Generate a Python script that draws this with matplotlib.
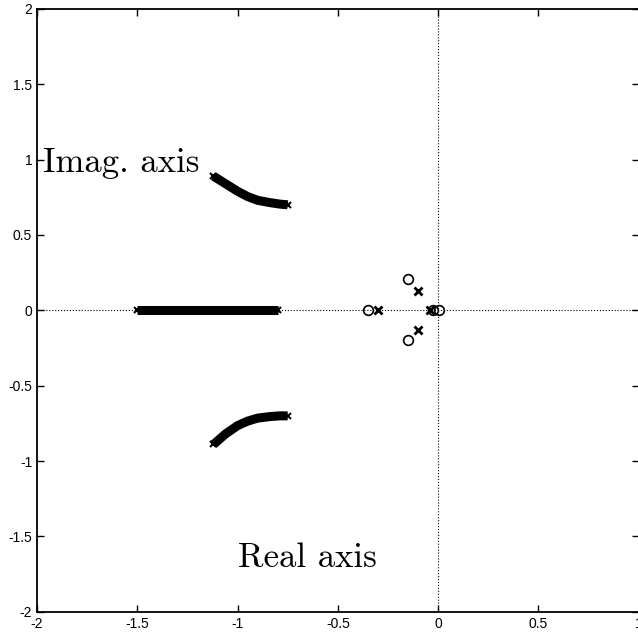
import matplotlib
matplotlib.use("Agg")
import matplotlib.pyplot as plt

plt.rcParams['axes.unicode_minus'] = False
plt.rcParams['font.family'] = ['Liberation Sans', 'DejaVu Sans']

# root locus branches
upper_x = [-1.12, -1.06, -1.00, -0.95, -0.90, -0.84, -0.79, -0.75]
upper_y = [0.89, 0.84, 0.79, 0.755, 0.73, 0.715, 0.705, 0.70]
lower_x = [-1.12, -1.06, -1.00, -0.95, -0.90, -0.84, -0.79, -0.75]
lower_y = [-0.89, -0.82, -0.765, -0.735, -0.715, -0.705, -0.70, -0.70]
real_x = [-1.50, -0.80]
real_y = [0.0, 0.0]

# open-loop poles and zeros near origin
pole_x = [-0.30, -0.10, -0.10, -0.04]
pole_y = [0.0, 0.13, -0.13, 0.0]
zero_x = [-0.35, -0.15, -0.15, -0.025, 0.005]
zero_y = [0.0, 0.205, -0.20, 0.0, 0.0]

xticks = [-2, -1.5, -1, -0.5, 0, 0.5, 1]
yticks = [-2, -1.5, -1, -0.5, 0, 0.5, 1, 1.5, 2]

fig = plt.figure(figsize=(6.38, 6.34), dpi=100)
ax = fig.add_axes([0.058, 0.035, 0.943, 0.951])

ax.plot([-2, 1], [0, 0], color='black', linestyle=':', linewidth=0.8)
ax.plot([0, 0], [-2, 2], color='black', linestyle=':', linewidth=0.8)

for bx, by in [(upper_x, upper_y), (lower_x, lower_y), (real_x, real_y)]:
    ax.plot(bx, by, color='black', linewidth=6.5, solid_capstyle='butt')
    ax.plot([bx[0], bx[-1]], [by[0], by[-1]], 'x', color='black',
            markersize=5, markeredgewidth=1.5)

ax.plot(pole_x, pole_y, 'x', color='black', markersize=6, markeredgewidth=2)
ax.plot(zero_x, zero_y, 'o', color='black', markerfacecolor='none',
        markersize=7, markeredgewidth=1.2)

ax.text(-1.97, 0.92, 'Imag. axis', fontsize=25, family='cmr10',
        ha='left', va='baseline')
ax.text(-0.65, -1.70, 'Real axis', fontsize=25, family='cmr10',
        ha='center', va='baseline')

ax.set_xlim(-2, 1)
ax.set_ylim(-2, 2)
ax.set_xticks(xticks)
ax.set_yticks(yticks)
ax.set_xticklabels([f'{t:g}' for t in xticks])
ax.set_yticklabels([f'{t:g}' for t in yticks])
ax.tick_params(direction='in', top=True, right=True, length=5,
               labelsize=10, width=1)
for s in ax.spines.values():
    s.set_linewidth(1.3)

fig.savefig('out.png', dpi=100)
